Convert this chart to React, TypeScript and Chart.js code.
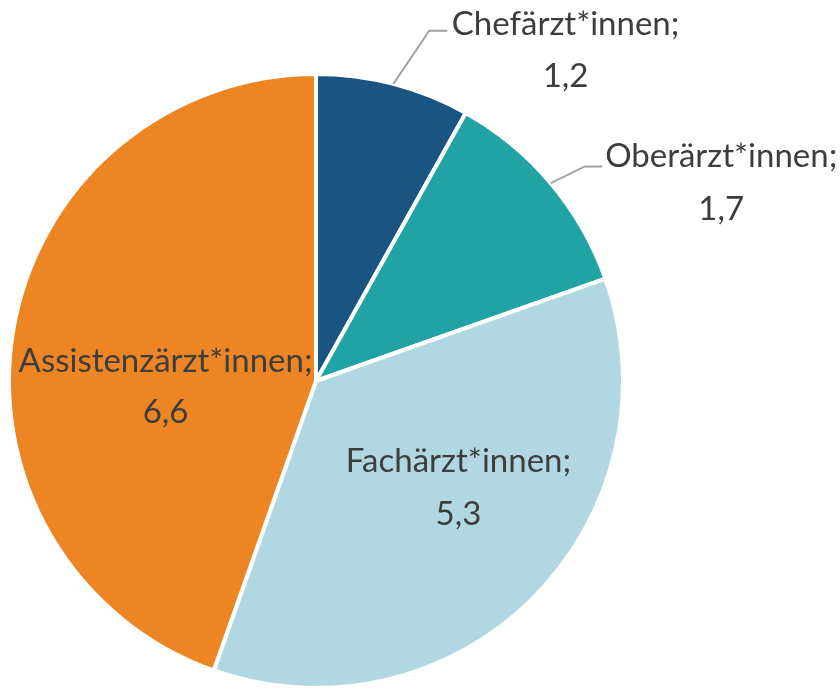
import React, { useEffect, useRef } from "react";
import { Chart, registerables } from "chart.js";

Chart.register(...registerables);

const categories = ["Chefärzt*innen;", "Oberärzt*innen;", "Fachärzt*innen;", "Assistenzärzt*innen;"];
const values = [1.2, 1.7, 5.3, 6.6];
const valueLabels = ["1,2", "1,7", "5,3", "6,6"];
const colors = ["#1a5581", "#21a3a6", "#b1d8e2", "#ee8524"];

// label placement in units of radius relative to pie center (line1 baseline, line2 baseline)
const labelPos = [
  { x: 0.813, y1: -1.127, y2: -0.957 },
  { x: 1.32, y1: -0.696, y2: -0.526 },
  { x: 0.464, y1: 0.297, y2: 0.47 },
  { x: -0.49, y1: -0.03, y2: 0.137 },
];
const leaders: (null | { mid: number; elbow: [number, number]; end: [number, number] })[] = [
  { mid: 1, elbow: [0.369, -1.141], end: [0.428, -1.141] },
  { mid: 1, elbow: [0.876, -0.699], end: [0.932, -0.699] },
  null,
  null,
];

const labelPlugin = {
  id: "pieLabels",
  afterDraw(chart: any) {
    const ctx = chart.ctx;
    const meta = chart.getDatasetMeta(0);
    meta.data.forEach((arc: any, i: number) => {
      const { x, y, outerRadius, startAngle, endAngle } = arc.getProps(
        ["x", "y", "outerRadius", "startAngle", "endAngle"],
        true
      );
      const r = outerRadius;
      const ld = leaders[i];
      ctx.save();
      if (ld) {
        const a = (startAngle + endAngle) / 2;
        ctx.strokeStyle = "#a3a3a3";
        ctx.lineWidth = 2;
        ctx.beginPath();
        ctx.moveTo(x + Math.cos(a) * r * ld.mid, y + Math.sin(a) * r * ld.mid);
        ctx.lineTo(x + ld.elbow[0] * r, y + ld.elbow[1] * r);
        ctx.lineTo(x + ld.end[0] * r, y + ld.end[1] * r);
        ctx.stroke();
      }
      const p = labelPos[i];
      ctx.fillStyle = "#3d3d3d";
      ctx.font = "33px Lato";
      ctx.textAlign = "center";
      ctx.textBaseline = "alphabetic";
      ctx.fillText(categories[i], x + p.x * r, y + p.y1 * r);
      ctx.fillText(valueLabels[i], x + p.x * r, y + p.y2 * r);
      ctx.restore();
    });
  },
};

export default function App() {
  const ref = useRef<HTMLCanvasElement | null>(null);
  useEffect(() => {
    document.body.style.margin = "0";
    const chart = new Chart(ref.current as HTMLCanvasElement, {
      type: "pie",
      data: {
        labels: categories,
        datasets: [
          {
            data: values,
            backgroundColor: colors,
            borderColor: "#ffffff",
            borderWidth: 4,
          },
        ],
      },
      options: {
        responsive: false,
        animation: false,
        layout: { padding: { left: 6, top: 72, right: 214, bottom: 2 } },
        plugins: { legend: { display: false }, tooltip: { enabled: false } },
      },
      plugins: [labelPlugin],
    });
    return () => chart.destroy();
  }, []);
  return (
    <div style={{ width: 840, height: 692, background: "#fff" }}>
      <canvas ref={ref} width={840} height={692} />
    </div>
  );
}
